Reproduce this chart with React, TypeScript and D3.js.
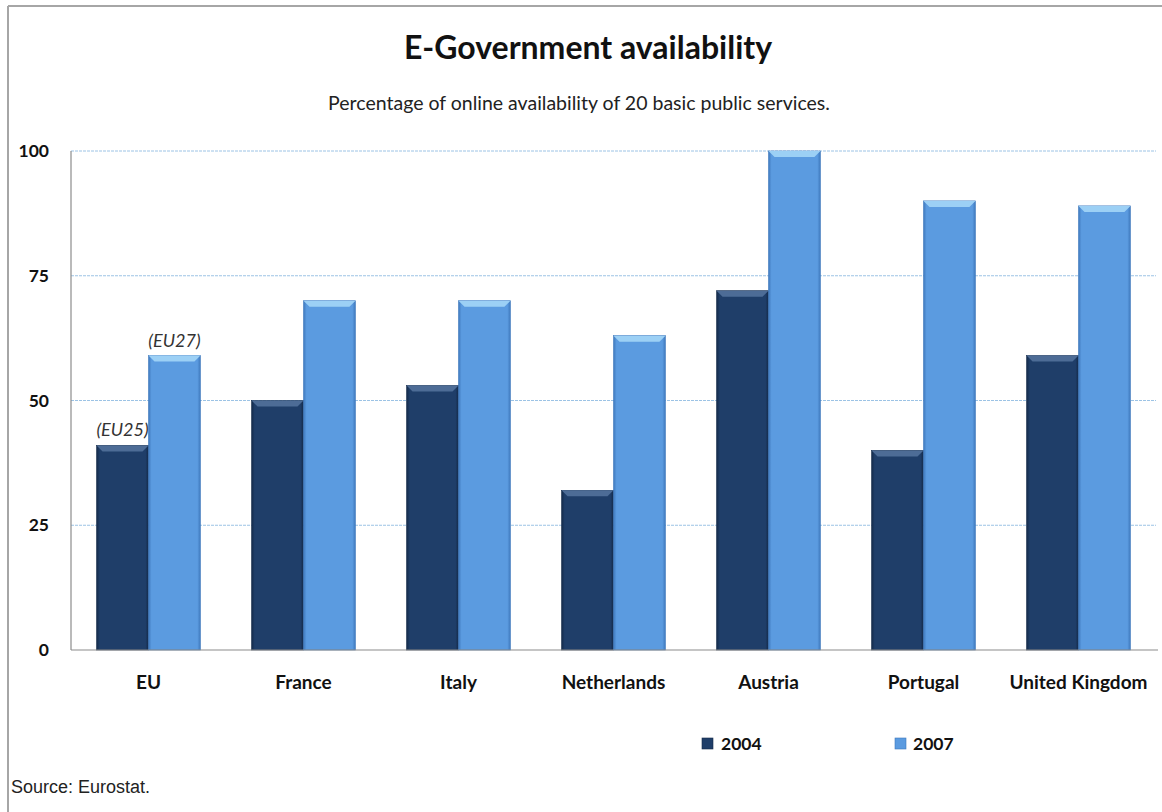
import React from "react";
import * as d3 from "d3";

const categories = ["EU", "France", "Italy", "Netherlands", "Austria", "Portugal", "United Kingdom"];
const series = ["2004", "2007"];
const values2004 = [41, 50, 53, 32, 72, 40, 59];
const values2007 = [59, 70, 70, 63, 100, 90, 89];
const yTicks = [0, 25, 50, 75, 100];
const notes2004 = ["(EU25)", "", "", "", "", "", ""];
const notes2007 = ["(EU27)", "", "", "", "", "", ""];

const W = 1162, H = 812;
const left = 71, right = 1156, top = 151, bottom = 650;
const font = "Lato, 'Open Sans', sans-serif";
const colors = ["#1f3e69", "#5b9be0"];
const lights = ["#4d6c96", "#9cd0f5"];
const darks = ["#142a49", "#3f79bd"];

export default function App() {
  const x0 = d3.scaleBand<string>().domain(categories).range([left, right]).paddingInner(0.33).paddingOuter(0.165);
  const x1 = d3.scaleBand<string>().domain(series).range([0, x0.bandwidth()]);
  const y = d3.scaleLinear().domain([0, 100]).range([bottom, top]);
  const data = [values2004, values2007];
  const notes = [notes2004, notes2007];

  return (
    <svg width={W} height={H} style={{ position: "absolute", left: 0, top: 0, background: "#fff" }}>
      <defs>
        {series.map((s, i) => (
          <linearGradient key={s} id={`g${i}`} x1="0" x2="1" y1="0" y2="0">
            <stop offset="0" stopColor={darks[i]} />
            <stop offset="0.06" stopColor={colors[i]} />
            <stop offset="0.94" stopColor={colors[i]} />
            <stop offset="1" stopColor={darks[i]} />
          </linearGradient>
        ))}
      </defs>
      <line x1={8} x2={8} y1={6} y2={H} stroke="#a6a6a6" strokeWidth={2} />
      <line x1={8} x2={W} y1={6} y2={6} stroke="#a6a6a6" strokeWidth={2} />
      <text x={588} y={59} textAnchor="middle" fontFamily={font} fontWeight="bold" fontSize={32} fill="#111">E-Government availability</text>
      <text x={579} y={110} textAnchor="middle" fontFamily={font} fontSize={19.5} fill="#222">Percentage of online availability of 20 basic public services.</text>
      {yTicks.filter(t => t > 0).map(t => (
        <line key={t} x1={left} x2={right} y1={y(t)} y2={y(t)} stroke="#9cc3e5" strokeWidth={1} strokeDasharray="3,1" />
      ))}
      {yTicks.map(t => (
        <text key={t} x={49} y={y(t) + 6} textAnchor="end" fontFamily={font} fontWeight="bold" fontSize={17.5} fill="#111">{t}</text>
      ))}
      {categories.map((c, ci) => (
        <g key={c}>
          {series.map((s, si) => {
            const bx = (x0(c) as number) + (x1(s) as number);
            const bw = x1.bandwidth();
            const by = y(data[si][ci]);
            const bh = bottom - by;
            const bev = 6;
            return (
              <g key={s}>
                <rect x={bx} y={by} width={bw} height={bh} fill={`url(#g${si})`} stroke={darks[si]} strokeWidth={0.6} />
                <path d={`M${bx},${by} L${bx + bw},${by} L${bx + bw - bev},${by + bev} L${bx + bev},${by + bev} Z`} fill={lights[si]} />
                {notes[si][ci] && (
                  <text x={bx + bw / 2} y={by - 9} textAnchor="middle" fontFamily={font} fontStyle="italic" fontSize={18} fill="#333">{notes[si][ci]}</text>
                )}
              </g>
            );
          })}
          <text x={(x0(c) as number) + x0.bandwidth() / 2} y={689} textAnchor="middle" fontFamily={font} fontWeight="bold" fontSize={19} fill="#111">{c}</text>
        </g>
      ))}
      <line x1={left} x2={left} y1={top} y2={bottom} stroke="#8c8c8c" strokeWidth={1.2} />
      <line x1={left} x2={right + 2} y1={bottom} y2={bottom} stroke="#8c8c8c" strokeWidth={1.2} />
      {series.map((s, i) => {
        const lx = i === 0 ? 702 : 895;
        return (
          <g key={s}>
            <rect x={lx} y={738} width={11} height={11} fill={colors[i]} stroke={darks[i]} strokeWidth={0.6} />
            <text x={lx + (i === 0 ? 19 : 18)} y={750} fontFamily={font} fontWeight="bold" fontSize={17.5} fill="#111">{s}</text>
          </g>
        );
      })}
      <text x={11} y={793} fontFamily="'Liberation Sans', Arial, sans-serif" fontSize={18} fill="#222">Source: Eurostat.</text>
    </svg>
  );
}
